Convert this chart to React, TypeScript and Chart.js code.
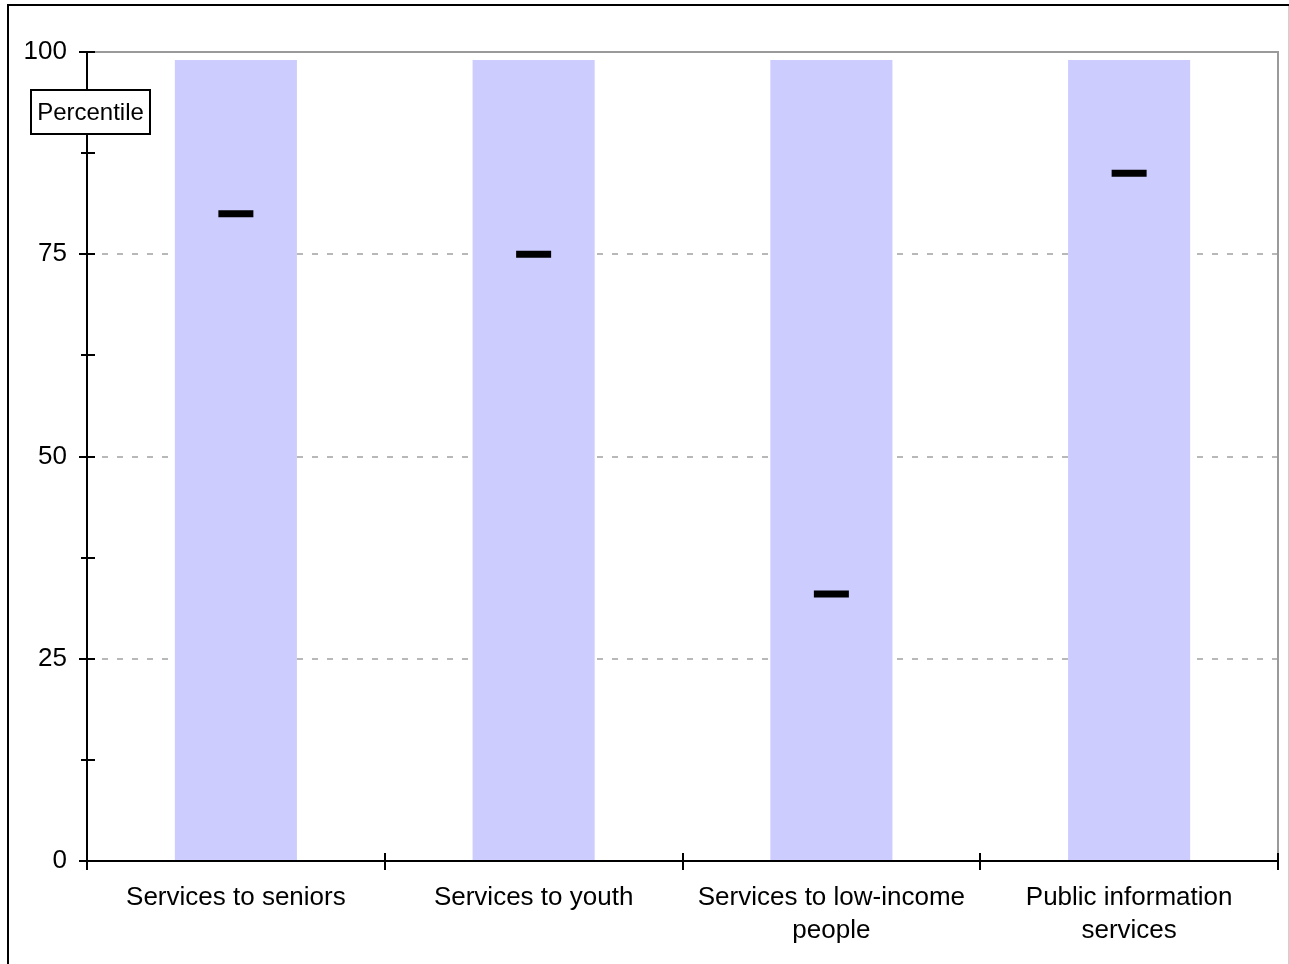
import React, { useEffect, useRef } from "react";
import { Chart, registerables } from "chart.js";

Chart.register(...registerables);

const categories: string[][] = [
  ["Services to seniors"],
  ["Services to youth"],
  ["Services to low-income", "people"],
  ["Public information", "services"],
];
const rangeTop = [99, 99, 99, 99];
const percentile = [80, 75, 33, 85];
const yMajorTicks = [0, 25, 50, 75, 100];
const yMinorTicks = [12.5, 37.5, 62.5, 87.5];
const boxLabel = "Percentile";

const FONT = "'Liberation Sans', Arial, sans-serif";

const decoPlugin = {
  id: "deco",
  afterDraw(chart: any) {
    const { ctx, chartArea: a, scales } = chart;
    const y = scales.y;
    ctx.save();
    ctx.lineWidth = 2;
    // top and right plot border (gray)
    ctx.strokeStyle = "#9a9a9a";
    ctx.beginPath();
    ctx.moveTo(a.left, a.top);
    ctx.lineTo(a.right, a.top);
    ctx.lineTo(a.right, a.bottom);
    ctx.stroke();
    // y axis
    ctx.strokeStyle = "#000";
    ctx.beginPath();
    ctx.moveTo(a.left, a.top);
    ctx.lineTo(a.left, a.bottom);
    ctx.stroke();
    yMajorTicks.forEach((v) => {
      const py = Math.round(y.getPixelForValue(v));
      ctx.beginPath();
      ctx.moveTo(a.left - 8, py);
      ctx.lineTo(a.left + 8, py);
      ctx.stroke();
    });
    yMinorTicks.forEach((v) => {
      const py = Math.round(y.getPixelForValue(v));
      ctx.beginPath();
      ctx.moveTo(a.left - 6, py);
      ctx.lineTo(a.left + 8, py);
      ctx.stroke();
    });
    // x axis
    ctx.beginPath();
    ctx.moveTo(a.left, a.bottom);
    ctx.lineTo(a.right, a.bottom);
    ctx.stroke();
    const n = categories.length;
    for (let i = 0; i <= n; i++) {
      const px = Math.round(a.left + ((a.right - a.left) * i) / n);
      ctx.beginPath();
      ctx.moveTo(px, a.bottom - 8);
      ctx.lineTo(px, a.bottom + 9);
      ctx.stroke();
    }
    // Percentile box
    const bx = 31, by = 90, bw = 119, bh = 44;
    ctx.fillStyle = "#fff";
    ctx.fillRect(bx, by, bw, bh);
    ctx.strokeStyle = "#000";
    ctx.strokeRect(bx, by, bw, bh);
    ctx.fillStyle = "#000";
    ctx.font = "24px " + FONT;
    ctx.textAlign = "center";
    ctx.textBaseline = "middle";
    ctx.fillText(boxLabel, bx + bw / 2, by + bh / 2 + 1);
    ctx.restore();
  },
};

export default function App() {
  const ref = useRef<HTMLCanvasElement | null>(null);
  useEffect(() => {
    if (!ref.current) return;
    const chart = new Chart(ref.current, {
      type: "bar",
      data: {
        labels: categories as any,
        datasets: [
          {
            type: "line",
            data: percentile,
            showLine: false,
            pointStyle: "line",
            pointRadius: 17.5,
            pointHoverRadius: 17.5,
            pointBorderWidth: 7,
            pointBorderColor: "#000",
            pointBackgroundColor: "#000",
            order: 0,
          } as any,
          {
            type: "bar",
            data: rangeTop,
            backgroundColor: "#CCCCFF",
            borderWidth: 0,
            categoryPercentage: 1,
            barPercentage: 0.41,
            order: 1,
          },
        ],
      },
      options: {
        animation: false,
        responsive: true,
        maintainAspectRatio: false,
        layout: { autoPadding: false, padding: { top: 52, right: 11, left: 0, bottom: 0 } },
        plugins: { legend: { display: false }, tooltip: { enabled: false } },
        scales: {
          x: {
            offset: true,
            grid: { display: false, drawTicks: false },
            border: { display: false },
            ticks: {
              color: "#000",
              font: { family: FONT, size: 26, lineHeight: 1.27 },
              padding: 20,
              maxRotation: 0,
              autoSkip: false,
            },
            afterFit: (s: any) => {
              s.height = 103;
            },
          },
          y: {
            min: 0,
            max: 100,
            border: { display: false, dash: [6, 9] },
            grid: {
              drawTicks: false,
              lineWidth: 2,
              color: (c: any) =>
                c.tick && (c.tick.value === 0 || c.tick.value === 100) ? "rgba(0,0,0,0)" : "#b8b8b8",
            },
            ticks: {
              stepSize: 25,
              color: "#000",
              font: { family: FONT, size: 26 },
              padding: 20,
            },
            afterFit: (s: any) => {
              s.width = 87;
            },
          },
        },
      },
      plugins: [decoPlugin],
    });
    return () => chart.destroy();
  }, []);

  return (
    <div style={{ position: "fixed", left: 0, top: 0, width: 1289, height: 964, overflow: "hidden", background: "#fff" }}>
      <div
        style={{
          position: "absolute",
          left: 7,
          top: 4,
          width: 1300,
          height: 1000,
          borderTop: "2px solid #000",
          borderLeft: "2px solid #000",
        }}
      />
      <div style={{ position: "absolute", left: 1288, top: 6, width: 1, height: 958, background: "#d0d0d0" }} />
      <div style={{ position: "absolute", left: 0, top: 0, width: 1289, height: 964 }}>
        <canvas ref={ref} />
      </div>
    </div>
  );
}
